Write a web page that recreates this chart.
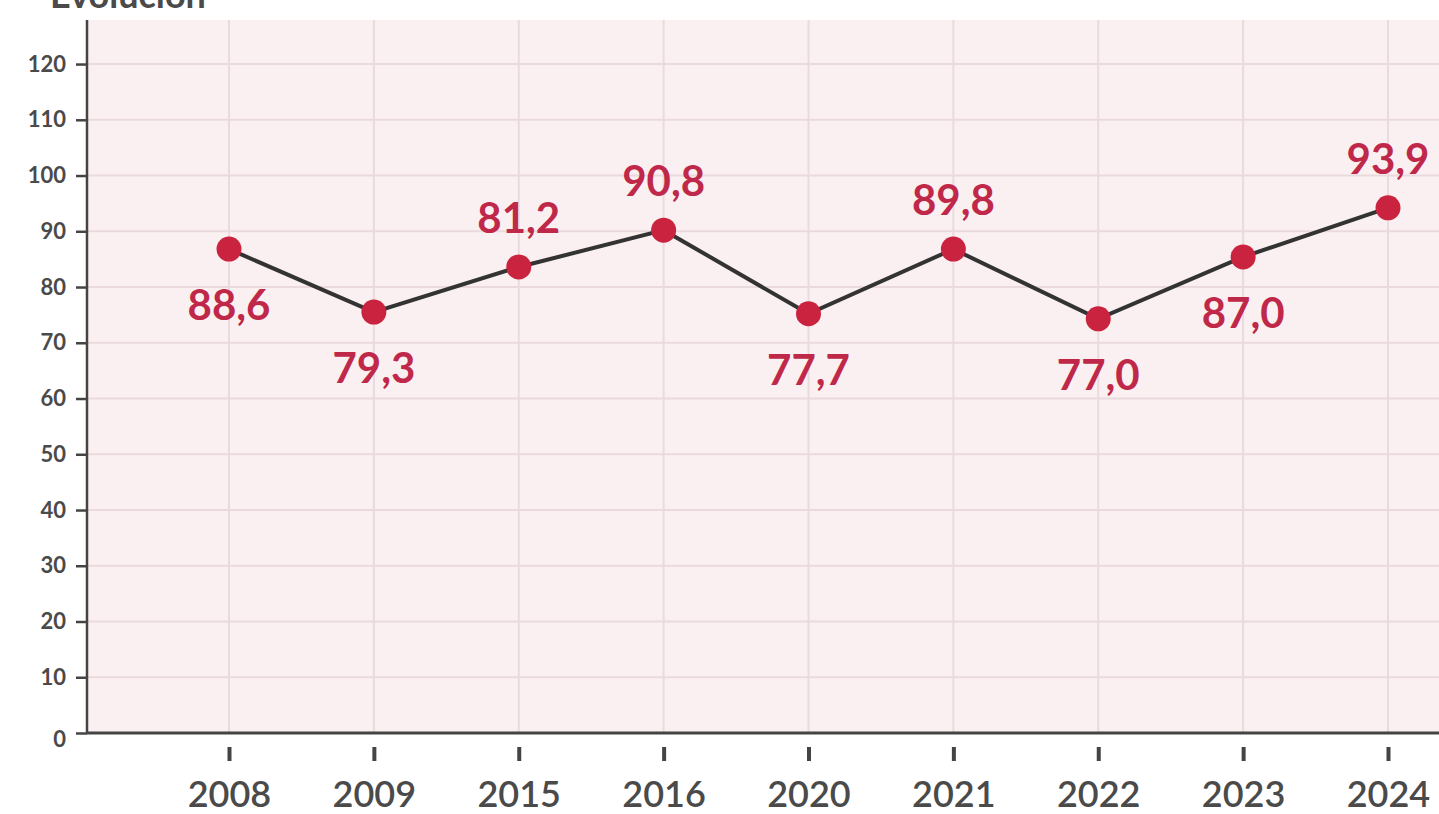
<!DOCTYPE html>
<html>
<head>
<meta charset="utf-8">
<script src="https://cdn.jsdelivr.net/npm/d3@7"></script>
<style>
  html, body { margin: 0; padding: 0; background: #fff; }
  svg { display: block; font-family: Lato, 'Open Sans', sans-serif; }
</style>
</head>
<body>
<div class="canvas"></div>
<script>
// categories and values
const years = ['2008', '2009', '2015', '2016', '2020', '2021', '2022', '2023', '2024'];
// where the dots sit on the axis
const plotted = [86.8, 75.5, 83.6, 90.2, 75.2, 86.8, 74.3, 85.4, 94.2];
// the printed labels
const labels = ['88,6', '79,3', '81,2', '90,8', '77,7', '89,8', '77,0', '87,0', '93,9'];
const labelSide = ['below', 'below', 'above', 'above', 'below', 'above', 'below', 'below', 'above'];
const yTicks = d3.range(0, 121, 10);

const COLOR = {
  bg: '#fbf0f1',
  grid: '#eadadd',
  axis: '#444444',
  text: '#4a4a4a',
  dot: '#c9233f',
  label: '#c0284a',
  line: '#333333',
};

const width = 1439;
const height = 814;
const plot = { left: 87, right: 1439, top: 20, bottom: 733 };

const svg = d3
  .select('.canvas')
  .append('svg')
  .attr('width', width)
  .attr('height', height);

const x = d3
  .scalePoint()
  .domain(years)
  .range([229, 1388]);

const y = d3
  .scaleLinear()
  .domain([0, 127.9])
  .range([plot.bottom, plot.top]);

// title, cut off at the top
svg
  .append('text')
  .attr('x', 50)
  .attr('y', 8)
  .attr('font-size', 36)
  .attr('font-weight', 700)
  .attr('fill', COLOR.text)
  .text('Evolución');

// plot background
svg
  .append('rect')
  .attr('x', plot.left)
  .attr('y', plot.top)
  .attr('width', plot.right - plot.left)
  .attr('height', plot.bottom - plot.top)
  .attr('fill', COLOR.bg);

// grid
const grid = svg.append('g').attr('id', 'grid');
grid
  .selectAll('line.h')
  .data(yTicks.filter(d => d > 0))
  .join('line')
  .attr('class', 'h')
  .attr('x1', plot.left)
  .attr('x2', plot.right)
  .attr('y1', d => y(d))
  .attr('y2', d => y(d))
  .attr('stroke', COLOR.grid)
  .attr('stroke-width', 2);

grid
  .selectAll('line.v')
  .data(years)
  .join('line')
  .attr('class', 'v')
  .attr('x1', d => x(d))
  .attr('x2', d => x(d))
  .attr('y1', plot.top)
  .attr('y2', plot.bottom)
  .attr('stroke', COLOR.grid)
  .attr('stroke-width', 2);

// y axis
const yAxis = svg
  .append('g')
  .attr('transform', `translate(${plot.left},0)`)
  .call(
    d3
      .axisLeft(y)
      .tickValues(yTicks)
      .tickSize(11)
      .tickPadding(10)
  );
yAxis.select('.domain').remove();
yAxis.selectAll('.tick line').attr('stroke', COLOR.axis).attr('stroke-width', 2.5);
yAxis
  .selectAll('.tick text')
  .attr('font-family', 'Lato, sans-serif')
  .attr('font-size', 22)
  .attr('font-weight', 700)
  .attr('fill', COLOR.text)
  .attr('dy', d => (d === 0 ? '0.6em' : '0.32em'));

// x axis ticks, detached below the baseline
const xAxis = svg
  .append('g')
  .attr('transform', `translate(0,747)`)
  .call(
    d3
      .axisBottom(x)
      .tickSize(14)
      .tickPadding(20)
  );
xAxis.select('.domain').remove();
xAxis.selectAll('.tick line').attr('stroke', COLOR.axis).attr('stroke-width', 4);
xAxis
  .selectAll('.tick text')
  .attr('font-family', 'Lato, sans-serif')
  .attr('font-size', 36)
  .attr('font-weight', 600)
  .attr('fill', COLOR.text);

// axis lines
svg
  .append('line')
  .attr('x1', plot.left)
  .attr('x2', plot.left)
  .attr('y1', plot.top)
  .attr('y2', plot.bottom)
  .attr('stroke', COLOR.axis)
  .attr('stroke-width', 2.5);
svg
  .append('line')
  .attr('x1', plot.left)
  .attr('x2', plot.right)
  .attr('y1', plot.bottom)
  .attr('y2', plot.bottom)
  .attr('stroke', COLOR.axis)
  .attr('stroke-width', 3);

const points = years.map((d, i) => ({
  year: d,
  value: plotted[i],
  label: labels[i],
  side: labelSide[i],
}));

// line
const line = d3
  .line()
  .x(d => x(d.year))
  .y(d => y(d.value));

svg
  .append('path')
  .datum(points)
  .attr('d', line)
  .attr('fill', 'none')
  .attr('stroke', COLOR.line)
  .attr('stroke-width', 4);

// dots
svg
  .append('g')
  .selectAll('circle')
  .data(points)
  .join('circle')
  .attr('cx', d => x(d.year))
  .attr('cy', d => y(d.value))
  .attr('r', 12.5)
  .attr('fill', COLOR.dot);

// value labels
svg
  .append('g')
  .selectAll('text')
  .data(points)
  .join('text')
  .attr('x', d => x(d.year))
  .attr('y', d => y(d.value) + (d.side === 'below' ? 71 : -34))
  .attr('text-anchor', 'middle')
  .attr('font-size', 42)
  .attr('font-weight', 700)
  .attr('fill', COLOR.label)
  .text(d => d.label);
</script>
</body>
</html>
